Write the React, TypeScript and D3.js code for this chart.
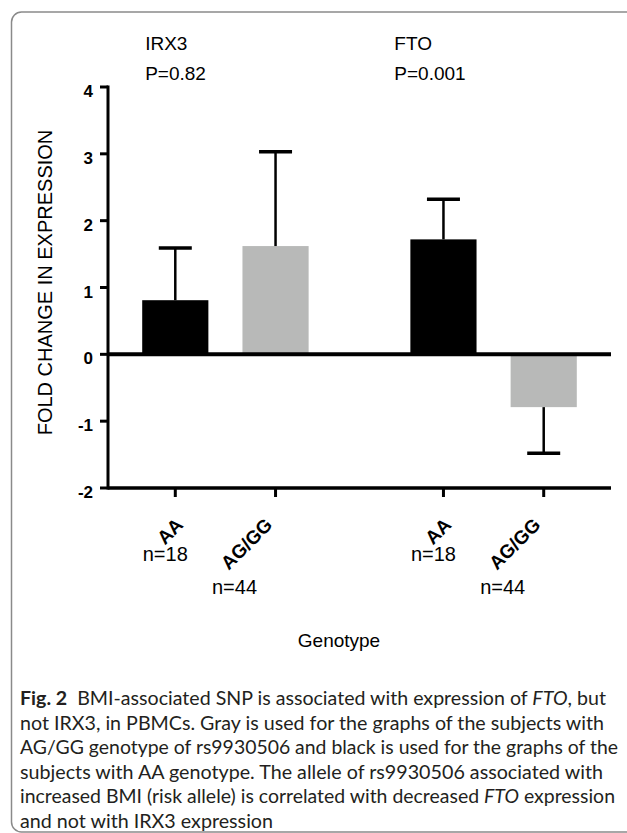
import React from "react";
import * as d3 from "d3";

// ---- data ----
const groups = ["IRX3", "FTO"];
const groupPValues = ["P=0.82", "P=0.001"];
const genotypes = ["AA", "AG/GG"];
const nLabels = [
  ["n=18", "n=44"],
  ["n=18", "n=44"],
];
const meanValues = [
  [0.81, 1.62],
  [1.72, -0.79],
];
const errorValues = [
  [0.78, 1.41],
  [0.6, 0.69],
];
const yTicks = [-2, -1, 0, 1, 2, 3, 4];
const genotypeColors = ["#000000", "#b8b9b8"];

const captionLines: { text: string; style?: "bold" | "italic" }[][] = [
  [
    { text: "Fig. 2", style: "bold" },
    { text: "\u00a0 BMI-associated SNP is associated with expression of " },
    { text: "FTO", style: "italic" },
    { text: ", but" },
  ],
  [{ text: "not IRX3, in PBMCs. Gray is used for the graphs of the subjects with" }],
  [{ text: "AG/GG genotype of rs9930506 and black is used for the graphs of the" }],
  [{ text: "subjects with AA genotype. The allele of rs9930506 associated with" }],
  [
    { text: "increased BMI (risk allele) is correlated with decreased " },
    { text: "FTO", style: "italic" },
    { text: " expression" },
  ],
  [{ text: "and not with IRX3 expression" }],
];
const captionWidths = [586, 584, 598, 583, 595, 253];

export default function App() {
  const W = 627;
  const H = 833;
  const x0 = 108;
  const x1 = 611;
  const y = d3.scaleLinear().domain([-2, 4]).range([488, 87]);
  const outer = d3
    .scaleBand<string>()
    .domain(groups)
    .range([x0, x1])
    .paddingInner(0.2523)
    .paddingOuter(0.064);
  const inner = d3
    .scaleBand<string>()
    .domain(genotypes)
    .range([0, outer.bandwidth()])
    .paddingInner(0.34)
    .paddingOuter(0.17);
  const arial = "Arial, 'Liberation Sans', Helvetica, sans-serif";
  const capFont = "Lato, 'Open Sans', sans-serif";

  const bars: any[] = [];
  groups.forEach((g, gi) => {
    genotypes.forEach((gt, ti) => {
      const v = meanValues[gi][ti];
      const e = errorValues[gi][ti];
      const xb = (outer(g) as number) + (inner(gt) as number);
      const cx = xb + inner.bandwidth() / 2;
      bars.push({ g, gi, gt, ti, v, e, xb, cx });
    });
  });

  return (
    <svg
      width={W}
      height={H}
      style={{ position: "absolute", left: 0, top: 0, background: "#fff" }}
    >
      <rect x={0} y={0} width={W} height={H} fill="#fff" />
      {/* frame */}
      <rect
        x={11.5}
        y={12}
        width={650}
        height={820}
        rx={10}
        fill="none"
        stroke="#8a8a8a"
        strokeWidth={1.5}
      />

      {/* group titles */}
      {groups.map((g, gi) => (
        <g key={g} fontFamily={arial} fontSize={19} fill="#000">
          <text x={(outer(g) as number) + (gi === 0 ? 20 : 1)} y={50}>
            {g}
          </text>
          <text x={(outer(g) as number) + (gi === 0 ? 20 : 1)} y={80}>
            {groupPValues[gi]}
          </text>
        </g>
      ))}

      {/* bars */}
      {bars.map((b) => (
        <rect
          key={b.g + b.gt}
          x={b.xb}
          width={inner.bandwidth()}
          y={Math.min(y(b.v), y(0))}
          height={Math.abs(y(b.v) - y(0))}
          fill={genotypeColors[b.ti]}
        />
      ))}

      {/* error bars */}
      {bars.map((b) => {
        const s = b.v >= 0 ? 1 : -1;
        const yEnd = y(b.v + s * b.e);
        return (
          <g key={"e" + b.g + b.gt} stroke="#000">
            <line x1={b.cx} x2={b.cx} y1={y(b.v)} y2={yEnd} strokeWidth={2.5} />
            <line
              x1={b.cx - 16.5}
              x2={b.cx + 16.5}
              y1={yEnd}
              y2={yEnd}
              strokeWidth={3.5}
            />
          </g>
        );
      })}

      {/* zero line */}
      <line x1={x0} x2={x1} y1={y(0)} y2={y(0)} stroke="#000" strokeWidth={4} />

      {/* y axis */}
      <line x1={x0} x2={x0} y1={y(4) - 1.5} y2={y(-2) + 1.5} stroke="#000" strokeWidth={3} />
      {yTicks.map((t) => (
        <g key={t}>
          <line x1={x0 - 8} x2={x0} y1={y(t)} y2={y(t)} stroke="#000" strokeWidth={3} />
          <text
            x={x0 - 15}
            y={y(t) + 10}
            textAnchor="end"
            fontFamily={arial}
            fontWeight="bold"
            fontSize={17}
          >
            {t}
          </text>
        </g>
      ))}

      {/* x axis */}
      <line x1={x0} x2={x1} y1={y(-2)} y2={y(-2)} stroke="#000" strokeWidth={3.5} />
      {bars.map((b) => (
        <g key={"t" + b.g + b.gt}>
          <line
            x1={b.cx}
            x2={b.cx}
            y1={y(-2)}
            y2={y(-2) + 9}
            stroke="#000"
            strokeWidth={3}
          />
          <text
            transform={`translate(${b.cx + (b.gt === "AA" ? 9 : -2)},${526}) rotate(-45)`}
            textAnchor="end"
            fontFamily={arial}
            fontWeight="bold"
            fontSize={19}
          >
            {b.gt}
          </text>
          <text
            x={b.cx + (b.gt === "AA" ? -10 : -41)}
            y={b.gt === "AA" ? 561 : 594}
            textAnchor="middle"
            fontFamily={arial}
            fontSize={20}
          >
            {nLabels[b.gi][b.ti]}
          </text>
        </g>
      ))}

      {/* axis titles */}
      <text
        transform={`translate(52,${(y(4) + y(-2)) / 2 - 5}) rotate(-90)`}
        textAnchor="middle"
        fontFamily={arial}
        fontSize={20}
      >
        FOLD CHANGE IN EXPRESSION
      </text>
      <text x={339} y={647} textAnchor="middle" fontFamily={arial} fontSize={19}>
        Genotype
      </text>

      {/* caption */}
      {captionLines.map((line, i) => (
        <text
          key={i}
          x={20}
          y={705 + i * 24.5}
          fontFamily={capFont}
          fontSize={18.5}
          fill="#231f20"
          textLength={captionWidths[i]}
          lengthAdjust="spacingAndGlyphs"
        >
          {line.map((seg, j) => (
            <tspan
              key={j}
              fontWeight={seg.style === "bold" ? "bold" : "normal"}
              fontStyle={seg.style === "italic" ? "italic" : "normal"}
            >
              {seg.text}
            </tspan>
          ))}
        </text>
      ))}
    </svg>
  );
}
